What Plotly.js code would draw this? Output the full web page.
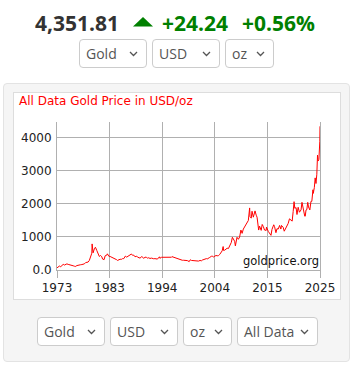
<!DOCTYPE html>
<html>
<head>
<meta charset="utf-8">
<script src="https://cdn.plot.ly/plotly-3.0.1.min.js"></script>
<style>
  html, body { margin: 0; padding: 0; background: #fff; width: 362px; height: 379px; overflow: hidden; font-family: "Open Sans", sans-serif; }
  .abs { position: absolute; }
  .hdr { font-weight: 700; font-size: 21px; line-height: 26px; top: 10px; white-space: nowrap; }
  .sel { position: absolute; box-sizing: border-box; height: 29px; border: 1px solid #ccc; border-radius: 4px; background: #fff; color: #555; font-size: 14px; line-height: 27px; padding-left: 6px; }
  .sel svg { position: absolute; right: 8px; top: 11px; }
  #panel { left: 3px; top: 83px; width: 347px; height: 279px; box-sizing: border-box; background: #f5f5f5; border: 1px solid #e3e3e3; border-radius: 4px; }
  #box { left: 13px; top: 92px; width: 328px; height: 208px; box-sizing: border-box; background: #fff; border: 1px solid #ddd; }
  #chart { left: 14px; top: 93px; width: 326px; height: 206px; }
</style>
</head>
<body>
<div class="abs hdr" style="left:35px;color:#333;">4,351.81</div>
<svg class="abs" style="left:133px;top:17px;" width="20" height="10"><polygon points="0,9.5 10,0 20,9.5" fill="#008000"/></svg>
<div class="abs hdr" style="left:162px;color:#008000;">+24.24</div>
<div class="abs hdr" style="left:242px;color:#008000;">+0.56%</div>

<div id="topsel"></div>
<div id="panel" class="abs"></div>
<div id="box" class="abs"></div>
<div id="chart" class="abs"></div>
<div id="botsel"></div>

<script>
// ---- data ----
const dates = [
 "1973-01-02","1973-04-01","1973-07-01","1973-10-01",
 "1974-01-01","1974-04-01","1974-07-01","1974-10-01","1974-12-30",
 "1975-04-01","1975-07-01","1975-10-01","1975-12-30",
 "1976-04-01","1976-07-01","1976-09-01","1976-12-30",
 "1977-04-01","1977-07-01","1977-10-01","1977-12-30",
 "1978-04-01","1978-07-01","1978-10-01","1978-12-30",
 "1979-04-01","1979-07-01","1979-10-01","1979-12-30",
 "1980-01-21","1980-03-15","1980-04-01","1980-07-01","1980-09-20","1980-12-30",
 "1981-04-01","1981-07-01","1981-10-01","1981-12-30",
 "1982-03-01","1982-06-20","1982-09-01","1982-12-30",
 "1983-02-15","1983-06-01","1983-09-01","1983-12-30",
 "1984-03-01","1984-06-01","1984-09-01","1984-12-30",
 "1985-02-25","1985-06-01","1985-09-01","1985-12-30",
 "1986-03-01","1986-06-01","1986-09-20","1986-12-30",
 "1987-03-01","1987-06-01","1987-09-01","1987-12-14",
 "1988-03-01","1988-06-01","1988-09-01","1988-12-30",
 "1989-03-01","1989-06-01","1989-09-01","1989-12-30",
 "1990-01-20","1990-06-01","1990-09-01","1990-12-30",
 "1991-03-01","1991-06-01","1991-09-01","1991-12-30",
 "1992-03-01","1992-06-01","1992-09-01","1992-12-30",
 "1993-03-01","1993-07-30","1993-09-01","1993-12-30",
 "1994-03-01","1994-06-01","1994-09-01","1994-12-30",
 "1995-03-01","1995-06-01","1995-09-01","1995-12-30",
 "1996-02-01","1996-06-01","1996-09-01","1996-12-30",
 "1997-03-01","1997-06-01","1997-09-01","1997-12-30",
 "1998-03-01","1998-06-01","1998-09-01","1998-12-30",
 "1999-03-01","1999-07-20","1999-10-05","1999-12-30",
 "2000-03-01","2000-06-01","2000-09-01","2000-12-30",
 "2001-03-01","2001-06-01","2001-09-20","2001-12-30",
 "2002-03-01","2002-06-01","2002-09-01","2002-12-30",
 "2003-03-01","2003-06-01","2003-09-01","2003-12-30",
 "2004-03-01","2004-06-01","2004-09-01","2004-12-01",
 "2005-03-01","2005-06-01","2005-09-01","2005-12-12",
 "2006-03-01","2006-05-12","2006-06-15","2006-09-01","2006-12-01",
 "2007-03-01","2007-06-01","2007-09-01","2007-12-30",
 "2008-03-17","2008-06-01","2008-09-01","2008-10-24","2008-12-30",
 "2009-02-20","2009-06-01","2009-09-01","2009-12-03",
 "2010-03-01","2010-06-01","2010-09-01","2010-12-30",
 "2011-03-01","2011-06-01","2011-09-05","2011-10-01","2011-12-30",
 "2012-02-28","2012-06-01","2012-10-04","2012-12-30",
 "2013-03-01","2013-06-28","2013-09-01","2013-12-30",
 "2014-03-14","2014-06-01","2014-09-01","2014-12-30",
 "2015-01-22","2015-06-01","2015-09-01","2015-12-17",
 "2016-03-01","2016-07-06","2016-09-01","2016-12-15",
 "2017-03-01","2017-06-01","2017-09-08","2017-12-12",
 "2018-01-25","2018-06-01","2018-08-16","2018-12-30",
 "2019-03-01","2019-06-01","2019-09-04","2019-12-30",
 "2020-03-19","2020-06-01","2020-08-06","2020-09-28","2020-12-30",
 "2021-03-08","2021-06-01","2021-09-01","2021-12-30",
 "2022-03-08","2022-06-01","2022-09-28","2022-11-03","2022-12-30",
 "2023-03-01","2023-05-04","2023-06-30","2023-10-05","2023-12-28",
 "2024-03-01","2024-05-20","2024-06-15","2024-09-01","2024-10-30","2024-12-30",
 "2025-03-01","2025-04-22","2025-06-01","2025-08-01","2025-09-15","2025-10-05","2025-10-20"
];
const prices = [
 65,90,120,100,
 130,170,150,160,185,
 170,165,143,140,
 128,115,105,134,
 150,143,160,165,
 175,185,225,225,
 240,290,390,510,
 790,560,520,640,690,590,
 490,410,440,400,
 330,315,430,450,
 490,415,410,385,
 395,375,340,310,
 290,315,325,325,
 345,345,420,390,
 405,450,460,485,
 445,450,400,420,
 390,367,360,400,
 410,350,390,380,
 360,370,350,360,
 345,340,345,335,
 330,400,355,385,
 385,385,395,380,
 385,385,385,387,
 405,385,380,370,
 350,340,325,290,
 295,295,290,290,
 285,255,310,290,
 285,285,275,272,
 265,270,290,278,
 300,320,320,345,
 335,350,380,415,
 420,395,410,440,
 430,435,470,520,
 580,710,590,600,630,
 660,650,740,835,
 990,930,870,730,870,
 990,930,1000,1210,
 1110,1240,1300,1400,
 1430,1500,1880,1620,1570,
 1780,1600,1790,1660,
 1600,1210,1330,1200,
 1380,1320,1210,1200,
 1300,1170,1115,1050,
 1230,1370,1320,1130,
 1250,1240,1350,1240,
 1350,1290,1175,1280,
 1300,1410,1550,1520,
 1480,1770,2070,1870,1890,
 1680,1900,1750,1820,
 2050,1840,1630,1630,1820,
 1830,2050,1910,1820,2080,
 2080,2430,2320,2500,2790,2620,
 2900,3480,3300,3350,3650,3900,4352
];
const yTickVals = [0, 1000, 2000, 3000, 4000];
const yTickText = ["0.0", "1000", "2000", "3000", "4000"];
const xTickText = ["1973", "1983", "1994", "2004", "2015", "2025"];
const titleText = "All Data Gold Price in USD/oz";
const watermark = "goldprice.org";
const selTop = [["Gold", 68], ["USD", 68], ["oz", 49]];
const selBot = [["Gold", 68], ["USD", 68], ["oz", 49], ["All Data", 81]];

// ---- selects ----
function chevron() {
  return '<svg width="9" height="6" viewBox="0 0 9 6"><polyline points="1,1 4.5,4.5 8,1" fill="none" stroke="#555" stroke-width="1.3"/></svg>';
}
function buildSel(id, items, left, top) {
  const host = document.getElementById(id);
  let x = left;
  items.forEach(([t, w]) => {
    const d = document.createElement('div');
    d.className = 'sel';
    d.style.left = x + 'px'; d.style.top = top + 'px'; d.style.width = w + 'px';
    d.innerHTML = t + chevron();
    host.appendChild(d);
    x += w + 5;
  });
}
buildSel('topsel', selTop, 79, 39);
buildSel('botsel', selBot, 37, 317);

// ---- chart ----
const t0 = new Date(dates[0] + "T00:00:00Z").getTime();
const t1 = new Date(dates[dates.length - 1] + "T00:00:00Z").getTime();
const xTickVals = xTickText.map((_, i) => t0 + i * (t1 - t0) / (xTickText.length - 1));
const yMax = Math.max(...prices) * 1.03;
const grid = '#b0b0b0';
const fontFam = '"DejaVu Sans", sans-serif';

Plotly.newPlot('chart', [{
  x: dates, y: prices, type: 'scatter', mode: 'lines',
  line: { color: '#ff0000', width: 1 }, hoverinfo: 'skip'
}], {
  width: 326, height: 206,
  margin: { l: 43, r: 20, t: 29, b: 29, pad: 0 },
  paper_bgcolor: '#fff', plot_bgcolor: '#fff',
  showlegend: false,
  title: { text: titleText, x: 5 / 326, xanchor: 'left', xref: 'container', y: 1 - 4 / 206, yanchor: 'top', yref: 'container',
           font: { family: fontFam, size: 12, color: '#ff0000' } },
  xaxis: {
    type: 'date', range: [t0, t1], tickmode: 'array', tickvals: xTickVals, ticktext: xTickText,
    showgrid: true, gridcolor: grid, gridwidth: 1, zeroline: false,
    showline: true, linecolor: grid, linewidth: 1,
    ticks: 'outside', ticklen: 7, tickcolor: grid, tickwidth: 1,
    tickfont: { family: fontFam, size: 12, color: '#222' }, fixedrange: true
  },
  yaxis: {
    range: [0, yMax], tickmode: 'array', tickvals: yTickVals, ticktext: yTickText,
    showgrid: true, gridcolor: grid, gridwidth: 1, zeroline: false,
    showline: true, mirror: true, linecolor: grid, linewidth: 1,
    ticks: 'outside', ticklen: 2, tickcolor: 'rgba(0,0,0,0)',
    tickfont: { family: fontFam, size: 12, color: '#222' }, fixedrange: true
  },
  annotations: [{
    text: watermark, xref: 'paper', yref: 'paper', x: 1, y: 0, xanchor: 'right', yanchor: 'bottom',
    showarrow: false, font: { family: fontFam, size: 11.5, color: '#111' }, xshift: 1, yshift: 0
  }]
}, { staticPlot: true, displayModeBar: false });
</script>
</body>
</html>
